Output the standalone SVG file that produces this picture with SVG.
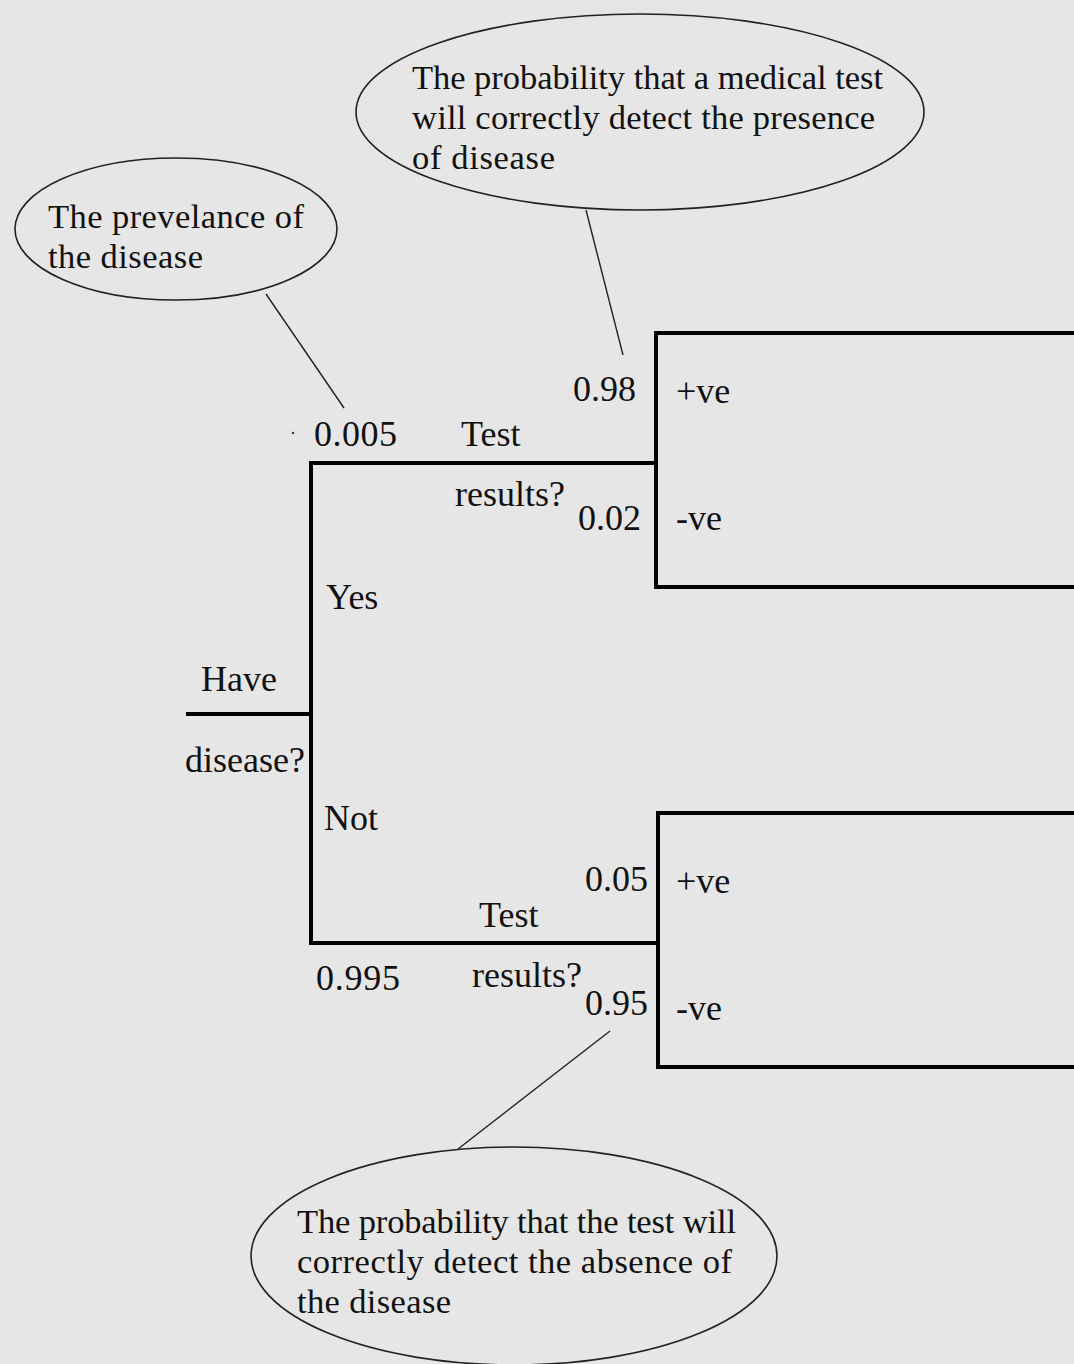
<svg xmlns="http://www.w3.org/2000/svg" width="1074" height="1364" viewBox="0 0 1074 1364">
<style>
text{font-family:"Liberation Serif","Times New Roman",serif;fill:#111}
.lbl{font-size:36px}
.note{font-size:34.5px}
.tree{fill:none;stroke:#000;stroke-width:4;stroke-linecap:square}
.ell{fill:none;stroke:#222;stroke-width:1.6}
.lead{stroke:#222;stroke-width:1.4}
</style>
<rect width="1074" height="1364" fill="#e6e6e6"/>
<g id="connectors">
<path class="tree" d="M188 714H311M311 463V943M311 463H656M311 943H658"/>
<line class="lead" x1="586" y1="210" x2="623" y2="355"/>
<line class="lead" x1="266" y1="294" x2="344" y2="408"/>
<line class="lead" x1="610" y1="1031" x2="458" y2="1149"/>
<circle cx="293" cy="433" r="1.2" fill="#333"/>
</g>
<g id="node-disease">
<text class="lbl" x="201" y="691">Have</text>
<text class="lbl" x="185" y="772">disease?</text>
</g>
<g id="node-yes">
<text class="lbl" x="326" y="609">Yes</text>
<text class="lbl" x="314" y="446" textLength="83" lengthAdjust="spacing">0.005</text>
</g>
<g id="node-not">
<text class="lbl" x="324" y="830">Not</text>
<text class="lbl" x="316" y="990" textLength="84" lengthAdjust="spacing">0.995</text>
</g>
<g id="node-test-top">
<text class="lbl" x="461" y="446">Test</text>
<text class="lbl" x="455" y="506">results?</text>
<text class="lbl" x="573" y="401">0.98</text>
<text class="lbl" x="578" y="530">0.02</text>
<path class="tree" d="M1076 333H656V587H1076"/>
<text class="lbl" x="676" y="403">+ve</text>
<text class="lbl" x="676" y="530">-ve</text>
</g>
<g id="node-test-bottom">
<text class="lbl" x="479" y="927">Test</text>
<text class="lbl" x="472" y="987">results?</text>
<text class="lbl" x="585" y="891">0.05</text>
<text class="lbl" x="585" y="1015">0.95</text>
<path class="tree" d="M1076 813H658V1067H1076"/>
<text class="lbl" x="676" y="893">+ve</text>
<text class="lbl" x="676" y="1020">-ve</text>
</g>
<g id="note-sensitivity">
<ellipse class="ell" cx="640" cy="112" rx="284" ry="98"/>
<text class="note" x="412" y="89" textLength="471" lengthAdjust="spacing">The probability that a medical test</text>
<text class="note" x="412" y="129" textLength="463" lengthAdjust="spacing">will correctly detect the presence</text>
<text class="note" x="412" y="169" textLength="143" lengthAdjust="spacing">of disease</text>
</g>
<g id="note-prevalence">
<ellipse class="ell" cx="176" cy="229" rx="161" ry="71"/>
<text class="note" x="48" y="228" textLength="256" lengthAdjust="spacing">The prevelance of</text>
<text class="note" x="48" y="268" textLength="155" lengthAdjust="spacing">the disease</text>
</g>
<g id="note-specificity">
<ellipse class="ell" cx="514" cy="1256" rx="263" ry="109"/>
<text class="note" x="297" y="1233" textLength="439" lengthAdjust="spacing">The probability that the test will</text>
<text class="note" x="297" y="1273" textLength="435" lengthAdjust="spacing">correctly detect the absence of</text>
<text class="note" x="297" y="1313" textLength="154" lengthAdjust="spacing">the disease</text>
</g>
</svg>
